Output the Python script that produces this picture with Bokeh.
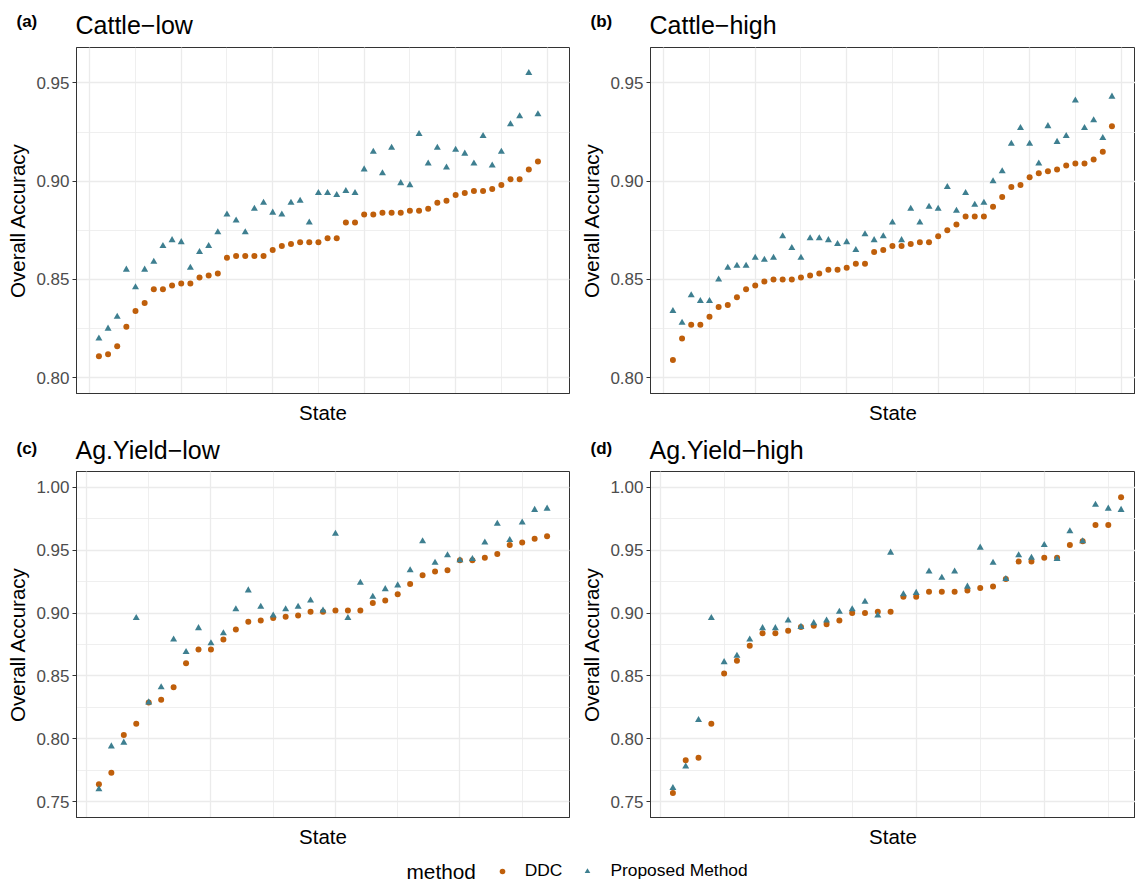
import numpy as np
from bokeh.plotting import figure
from bokeh.models import (Range1d, SingleIntervalTicker, FixedTicker, PrintfTickFormatter,
                          Label, Legend, LegendItem)
from bokeh.layouts import column, row
from bokeh.embed import file_html
from bokeh.resources import INLINE

# ---------------- data (states ordered by DDC accuracy) ----------------
cattle_low_ddc = [0.811, 0.812, 0.816, 0.826, 0.834, 0.838, 0.845, 0.845, 0.847, 0.848,
                  0.848, 0.851, 0.852, 0.853, 0.861, 0.862, 0.862, 0.862, 0.862, 0.865,
                  0.867, 0.868, 0.869, 0.869, 0.869, 0.871, 0.871, 0.879, 0.879, 0.883,
                  0.883, 0.884, 0.884, 0.884, 0.885, 0.885, 0.886, 0.889, 0.890, 0.893,
                  0.894, 0.895, 0.895, 0.896, 0.898, 0.901, 0.901, 0.906, 0.910]
cattle_low_proposed = [0.820, 0.825, 0.831, 0.855, 0.846, 0.855, 0.859, 0.867, 0.870, 0.869,
                       0.856, 0.864, 0.867, 0.874, 0.883, 0.880, 0.874, 0.886, 0.889, 0.884,
                       0.883, 0.889, 0.890, 0.879, 0.894, 0.894, 0.893, 0.895, 0.894, 0.906,
                       0.915, 0.904, 0.917, 0.899, 0.898, 0.924, 0.909, 0.917, 0.907, 0.916,
                       0.914, 0.909, 0.923, 0.908, 0.915, 0.929, 0.933, 0.955, 0.934]
cattle_high_ddc = [0.809, 0.820, 0.827, 0.827, 0.831, 0.836, 0.837, 0.841, 0.845, 0.847,
                   0.849, 0.850, 0.850, 0.850, 0.851, 0.852, 0.853, 0.855, 0.855, 0.856,
                   0.858, 0.858, 0.864, 0.865, 0.867, 0.867, 0.868, 0.869, 0.869, 0.872,
                   0.875, 0.878, 0.882, 0.882, 0.882, 0.887, 0.892, 0.897, 0.898, 0.902,
                   0.904, 0.905, 0.906, 0.908, 0.909, 0.909, 0.911, 0.915, 0.928]
cattle_high_proposed = [0.834, 0.828, 0.842, 0.839, 0.839, 0.850, 0.856, 0.857, 0.857, 0.861,
                        0.860, 0.861, 0.872, 0.866, 0.861, 0.871, 0.871, 0.870, 0.868, 0.869,
                        0.865, 0.873, 0.870, 0.872, 0.879, 0.870, 0.886, 0.879, 0.887, 0.886,
                        0.897, 0.885, 0.894, 0.888, 0.889, 0.900, 0.905, 0.919, 0.927, 0.919,
                        0.909, 0.928, 0.920, 0.923, 0.941, 0.927, 0.931, 0.922, 0.943]
ag_low_ddc = [0.764, 0.773, 0.803, 0.812, 0.829, 0.831, 0.841, 0.860, 0.871, 0.871,
              0.879, 0.887, 0.893, 0.894, 0.896, 0.897, 0.898, 0.901, 0.901, 0.902,
              0.902, 0.902, 0.908, 0.910, 0.915, 0.923, 0.930, 0.933, 0.934, 0.942,
              0.942, 0.944, 0.947, 0.954, 0.956, 0.959, 0.961]
ag_low_proposed = [0.760, 0.794, 0.797, 0.896, 0.829, 0.841, 0.879, 0.869, 0.888, 0.876,
                   0.884, 0.903, 0.918, 0.905, 0.898, 0.903, 0.905, 0.910, 0.902, 0.963,
                   0.896, 0.924, 0.913, 0.919, 0.922, 0.934, 0.957, 0.940, 0.946, 0.942,
                   0.943, 0.956, 0.971, 0.958, 0.972, 0.982, 0.983]
ag_high_ddc = [0.757, 0.783, 0.785, 0.812, 0.852, 0.862, 0.874, 0.884, 0.884, 0.886,
               0.889, 0.890, 0.891, 0.894, 0.900, 0.900, 0.901, 0.901, 0.913, 0.913,
               0.917, 0.917, 0.917, 0.918, 0.920, 0.921, 0.927, 0.941, 0.941, 0.944,
               0.944, 0.954, 0.957, 0.970, 0.970, 0.992]
ag_high_proposed = [0.761, 0.778, 0.815, 0.896, 0.861, 0.866, 0.879, 0.888, 0.888, 0.894,
                    0.889, 0.892, 0.894, 0.901, 0.903, 0.909, 0.898, 0.948, 0.915, 0.916,
                    0.933, 0.928, 0.933, 0.921, 0.952, 0.940, 0.927, 0.946, 0.944, 0.954,
                    0.943, 0.965, 0.957, 0.986, 0.983, 0.982]

panel_titles = ["Cattle\u2212low", "Cattle\u2212high", "Ag.Yield\u2212low", "Ag.Yield\u2212high"]
panel_tags = ["(a)", "(b)", "(c)", "(d)"]
method_names = ["DDC", "Proposed Method"]
legend_title = "method"
y_title = "Overall Accuracy"
x_title = "State"
y_limits = [(0.80, 0.96), (0.80, 0.96), (0.75, 1.00), (0.75, 1.00)]
x_scale_counts = [50, 50, 37, 36]

# ---------------- styling / layout ----------------
FONT = "Liberation Sans"
DDC_COLOR = "#BF5F0B"
PROP_COLOR = "#3E7F90"
BORDER = "#333333"
GRID = "#EBEBEB"
PAGE_W = 1135
FW_FULL, FW_CUT, FH = 493, 485, 346


def make_panel(idx, ddc, prop):
    is_left = idx % 2 == 0
    top_row = idx < 2
    n = len(ddc)
    state = np.arange(1, n + 1)
    ns = x_scale_counts[idx]
    xpad = 0.05 * (ns - 1)
    x0, x1 = 1 - xpad, ns + xpad
    fw = FW_FULL if is_left else FW_CUT
    if not is_left:
        x1 = x0 + (x1 - x0) * fw / FW_FULL
    lo, hi = y_limits[idx]
    ypad = 0.05 * (hi - lo)
    y0, y1 = lo - ypad, hi + ypad

    p = figure(frame_width=fw, frame_height=FH, title=None,
               x_range=Range1d(x0, x1), y_range=Range1d(y0, y1),
               output_backend="svg", toolbar_location=None,
               min_border_left=76 if is_left else 74,
               min_border_right=7 if is_left else 0,
               min_border_top=1,
               min_border_bottom=39 if top_row else 38)
    p.outline_line_color = BORDER
    p.outline_line_width = 1
    p.background_fill_color = "white"
    p.border_fill_color = "white"

    # grids
    p.xgrid.ticker = SingleIntervalTicker(interval=10, num_minor_ticks=2)
    p.xgrid.grid_line_color = GRID
    p.xgrid.grid_line_width = 1.3
    p.xgrid.minor_grid_line_color = GRID
    p.xgrid.minor_grid_line_width = 0.8
    p.ygrid.grid_line_color = GRID
    p.ygrid.grid_line_width = 1.3
    p.ygrid.minor_grid_line_color = GRID
    p.ygrid.minor_grid_line_width = 0.8

    # y axis
    ya = p.yaxis[0]
    ya.ticker = SingleIntervalTicker(interval=0.05, num_minor_ticks=2)
    ya.formatter = PrintfTickFormatter(format="%.2f")
    ya.axis_line_color = BORDER
    ya.major_tick_line_color = BORDER
    ya.minor_tick_line_color = None
    ya.major_tick_out = 4
    ya.major_tick_in = 0
    ya.major_label_standoff = 3
    ya.major_label_text_font = FONT
    ya.major_label_text_font_size = "17px"
    ya.major_label_text_color = "#4D4D4D"
    ya.axis_label = y_title
    ya.axis_label_text_font = FONT
    ya.axis_label_text_font_size = "20.5px"
    ya.axis_label_text_font_style = "normal"
    ya.axis_label_text_color = "black"
    ya.axis_label_standoff = 4

    # x axis
    xa = p.xaxis[0]
    xa.ticker = FixedTicker(ticks=[])
    xa.axis_line_color = BORDER
    xa.major_tick_out = 0
    xa.major_tick_in = 0
    xa.minor_tick_out = 0
    xa.minor_tick_in = 0
    xa.major_label_standoff = 0
    xa.axis_label = x_title
    xa.axis_label_text_font = FONT
    xa.axis_label_text_font_size = "20.5px"
    xa.axis_label_text_font_style = "normal"
    xa.axis_label_text_color = "black"
    xa.axis_label_standoff = 7

    # points
    p.scatter(state, ddc, marker="circle", size=6, fill_color=DDC_COLOR, line_color=None)
    p.scatter(state, prop, marker="triangle", size=7, fill_color=PROP_COLOR, line_color=None)
    return p


def strip(height):
    s = figure(frame_width=PAGE_W, frame_height=height, title=None,
               x_range=Range1d(0, PAGE_W), y_range=Range1d(0, height),
               x_axis_type=None, y_axis_type=None, output_backend="svg",
               toolbar_location=None, min_border_left=0, min_border_right=0,
               min_border_top=0, min_border_bottom=0)
    s.outline_line_color = None
    s.background_fill_color = "white"
    s.border_fill_color = "white"
    return s


def header(height, idx_pair, title_y, tag_y):
    h = strip(height)
    for k, idx in enumerate(idx_pair):
        frame_left = 76 if k == 0 else 650
        h.add_layout(Label(x=frame_left - 1, y=title_y, text=panel_titles[idx],
                           text_font=FONT, text_font_size="25px", text_color="black",
                           text_baseline="bottom", text_align="left"))
        h.add_layout(Label(x=frame_left - 60, y=tag_y, text=panel_tags[idx],
                           text_font=FONT, text_font_size="17px", text_font_style="bold",
                           text_color="black", text_baseline="bottom", text_align="left"))
    return h


head1 = header(46, (0, 1), 7.2, 16.0)
head2 = header(38, (2, 3), 6.6, 12.4)

pa = make_panel(0, cattle_low_ddc, cattle_low_proposed)
pb = make_panel(1, cattle_high_ddc, cattle_high_proposed)
pc = make_panel(2, ag_low_ddc, ag_low_proposed)
pd = make_panel(3, ag_high_ddc, ag_high_proposed)

# ---------------- legend strip ----------------
lf = strip(28)
nan = float("nan")
r1 = lf.scatter(x=[nan], y=[nan], marker="circle", fill_color=DDC_COLOR, line_color=None)
r2 = lf.scatter(x=[nan], y=[nan], marker="triangle", fill_color=PROP_COLOR, line_color=None)
leg = Legend(items=[LegendItem(label=method_names[0], renderers=[r1]),
                    LegendItem(label=method_names[1], renderers=[r2])],
             orientation="horizontal", location=(494.7, 2),
             glyph_width=14, glyph_height=14, label_standoff=16, spacing=18,
             padding=0, margin=0, border_line_color=None, background_fill_alpha=0,
             label_text_font=FONT, label_text_font_size="17.4px", label_text_color="black")
lf.add_layout(leg)
lf.add_layout(Label(x=406, y=12, text=legend_title, text_font=FONT, text_font_size="20.8px",
                    text_color="black", text_baseline="middle", text_align="left"))

layout = column(head1, row(pa, pb), head2, row(pc, pd), lf)

open("out.html", "w").write(file_html(layout, INLINE, title="Overall Accuracy by State"))
